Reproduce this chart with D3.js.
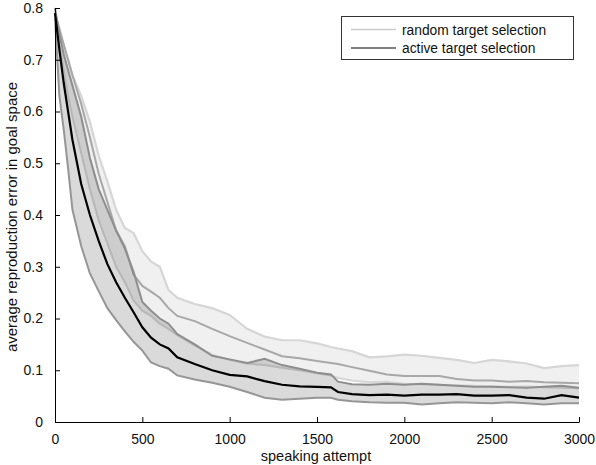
<!DOCTYPE html>
<html>
<head>
<meta charset="utf-8">
<script src="https://cdn.jsdelivr.net/npm/d3@7"></script>
<style>
  body { margin: 0; background: #fff; }
  text { font-family: "Liberation Sans", Arial, Helvetica, sans-serif; fill: #111; }
</style>
</head>
<body>
<div id="chart"></div>
<script>
// speaking attempts where the curves were read
var attempts = [0, 25, 50, 75, 100, 150, 200, 250, 300, 350, 400, 450, 500, 550, 600, 650, 700,
    800, 900, 1000, 1100, 1200, 1300, 1400, 1500, 1580, 1620, 1700, 1800, 1900, 2000,
    2100, 2200, 2300, 2400, 2500, 2600, 2700, 2800, 2900, 3000];

// random target selection: mean and band edges
var random_upper = [0.79, 0.76, 0.72, 0.70, 0.67, 0.63, 0.58, 0.515, 0.465, 0.41, 0.375, 0.365, 0.33, 0.31, 0.30, 0.255, 0.24,
    0.228, 0.22, 0.207, 0.18, 0.165, 0.158, 0.158, 0.152, 0.145, 0.142, 0.137, 0.125, 0.127, 0.13,
    0.128, 0.124, 0.12, 0.114, 0.12, 0.117, 0.113, 0.104, 0.108, 0.11];
var random_mean = [0.79, 0.76, 0.73, 0.70, 0.67, 0.615, 0.55, 0.48, 0.425, 0.37, 0.34, 0.285, 0.263, 0.252, 0.24, 0.22, 0.205,
    0.195, 0.18, 0.166, 0.153, 0.14, 0.127, 0.123, 0.118, 0.114, 0.112, 0.106, 0.099, 0.092, 0.089,
    0.089, 0.089, 0.083, 0.08, 0.08, 0.078, 0.079, 0.077, 0.076, 0.075];
var random_lower = [0.79, 0.73, 0.68, 0.63, 0.59, 0.52, 0.45, 0.39, 0.345, 0.30, 0.27, 0.235, 0.215, 0.205, 0.19, 0.18, 0.168,
    0.148, 0.13, 0.12, 0.113, 0.11, 0.105, 0.10, 0.094, 0.09, 0.085, 0.08, 0.077, 0.078, 0.074,
    0.073, 0.072, 0.071, 0.07, 0.069, 0.068, 0.069, 0.067, 0.066, 0.065];

// active target selection: mean and band edges
var active_upper = [0.80, 0.75, 0.71, 0.68, 0.65, 0.59, 0.51, 0.45, 0.41, 0.37, 0.335, 0.29, 0.232, 0.215, 0.20, 0.19, 0.17,
    0.15, 0.128, 0.121, 0.114, 0.122, 0.11, 0.103, 0.095, 0.092, 0.078, 0.073, 0.072, 0.074, 0.072,
    0.074, 0.072, 0.07, 0.068, 0.068, 0.067, 0.066, 0.068, 0.07, 0.066];
var active_mean = [0.79, 0.72, 0.655, 0.60, 0.545, 0.46, 0.40, 0.35, 0.305, 0.27, 0.24, 0.212, 0.183, 0.163, 0.15, 0.142, 0.125,
    0.112, 0.10, 0.091, 0.088, 0.079, 0.072, 0.069, 0.068, 0.067, 0.058, 0.054, 0.052, 0.053, 0.051,
    0.053, 0.053, 0.054, 0.051, 0.051, 0.052, 0.047, 0.045, 0.052, 0.047];
var active_lower = [0.78, 0.63, 0.565, 0.49, 0.41, 0.34, 0.287, 0.253, 0.22, 0.197, 0.175, 0.155, 0.138, 0.115, 0.108, 0.103, 0.09,
    0.082, 0.076, 0.068, 0.058, 0.047, 0.043, 0.045, 0.047, 0.047, 0.043, 0.040, 0.038, 0.037, 0.037,
    0.034, 0.036, 0.038, 0.037, 0.036, 0.038, 0.036, 0.034, 0.036, 0.036];

var x_ticks = [0, 500, 1000, 1500, 2000, 2500, 3000];
var y_ticks = [0, 0.1, 0.2, 0.3, 0.4, 0.5, 0.6, 0.7, 0.8];
var legend_labels = ['random target selection', 'active target selection'];

var chart_width = 596;
var chart_height = 465;

var svg = d3.select('#chart')
    .append('svg')
    .attr('width', chart_width)
    .attr('height', chart_height);

var x = d3.scaleLinear().domain([0, 3000]).range([55, 579]);
var y = d3.scaleLinear().domain([0, 0.8]).range([422, 8]);

function rows(lo, mid, hi) {
    return attempts.map(function(a, i) {
        return { a: a, lo: lo[i], mid: mid[i], hi: hi[i] };
    });
}
var random_rows = rows(random_lower, random_mean, random_upper);
var active_rows = rows(active_lower, active_mean, active_upper);

var band = d3.area()
    .x(function(d) { return x(d.a); })
    .y0(function(d) { return y(d.lo); })
    .y1(function(d) { return y(d.hi); });

function line(key) {
    return d3.line()
        .x(function(d) { return x(d.a); })
        .y(function(d) { return y(d[key]); });
}

// random band
svg.append('path').datum(random_rows)
    .attr('d', band).attr('fill', '#f0f0f0');
svg.append('path').datum(random_rows)
    .attr('d', line('hi')).attr('fill', 'none').attr('stroke', '#d6d6d6').attr('stroke-width', 2.2);
svg.append('path').datum(random_rows)
    .attr('d', line('lo')).attr('fill', 'none').attr('stroke', '#d6d6d6').attr('stroke-width', 2);
svg.append('path').datum(random_rows)
    .attr('d', line('mid')).attr('fill', 'none').attr('stroke', '#a8a8a8').attr('stroke-width', 2);

// active band, darker where it overlaps
svg.append('path').datum(active_rows)
    .attr('d', band).attr('fill', '#000').attr('fill-opacity', 0.145);
svg.append('path').datum(active_rows)
    .attr('d', line('hi')).attr('fill', 'none').attr('stroke', '#8e8e8e').attr('stroke-width', 2);
svg.append('path').datum(active_rows)
    .attr('d', line('lo')).attr('fill', 'none').attr('stroke', '#969696').attr('stroke-width', 2);
svg.append('path').datum(active_rows)
    .attr('d', line('mid')).attr('fill', 'none').attr('stroke', '#000').attr('stroke-width', 2.2);

// axes
var x_axis = d3.axisBottom(x)
    .tickValues(x_ticks)
    .tickFormat(d3.format('d'))
    .tickSizeInner(-5)
    .tickSizeOuter(0)
    .tickPadding(12);
var y_axis = d3.axisLeft(y)
    .tickValues(y_ticks)
    .tickFormat(function(d) { return d === 0 ? '0' : d3.format('.1f')(d); })
    .tickSizeInner(-5)
    .tickSizeOuter(0)
    .tickPadding(12);

var gx = svg.append('g').attr('transform', 'translate(0,422)').call(x_axis);
var gy = svg.append('g').attr('transform', 'translate(55,0)').call(y_axis);
svg.selectAll('.tick text').attr('font-size', 14).attr('font-family', null);
svg.selectAll('.domain, .tick line').attr('stroke', '#000');

svg.append('text')
    .attr('x', 316).attr('y', 460.5)
    .attr('text-anchor', 'middle')
    .attr('font-size', 14.5)
    .text('speaking attempt');

svg.append('text')
    .attr('transform', 'translate(17,217) rotate(-90)')
    .attr('text-anchor', 'middle')
    .attr('font-size', 15)
    .text('average reproduction error in goal space');

// legend
var legend = svg.append('g');
legend.append('rect')
    .attr('x', 341.5).attr('y', 16.5)
    .attr('width', 232).attr('height', 43)
    .attr('fill', '#fff').attr('stroke', '#333');
var legend_colors = ['#cccccc', '#555555'];
legend_labels.forEach(function(label, i) {
    var ly = 29.5 + i * 18.5;
    legend.append('line')
        .attr('x1', 351).attr('x2', 396)
        .attr('y1', ly).attr('y2', ly)
        .attr('stroke', legend_colors[i]).attr('stroke-width', 1.6);
    legend.append('text')
        .attr('x', 402).attr('y', ly + 5)
        .attr('font-size', 13.8)
        .text(label);
});
</script>
</body>
</html>
